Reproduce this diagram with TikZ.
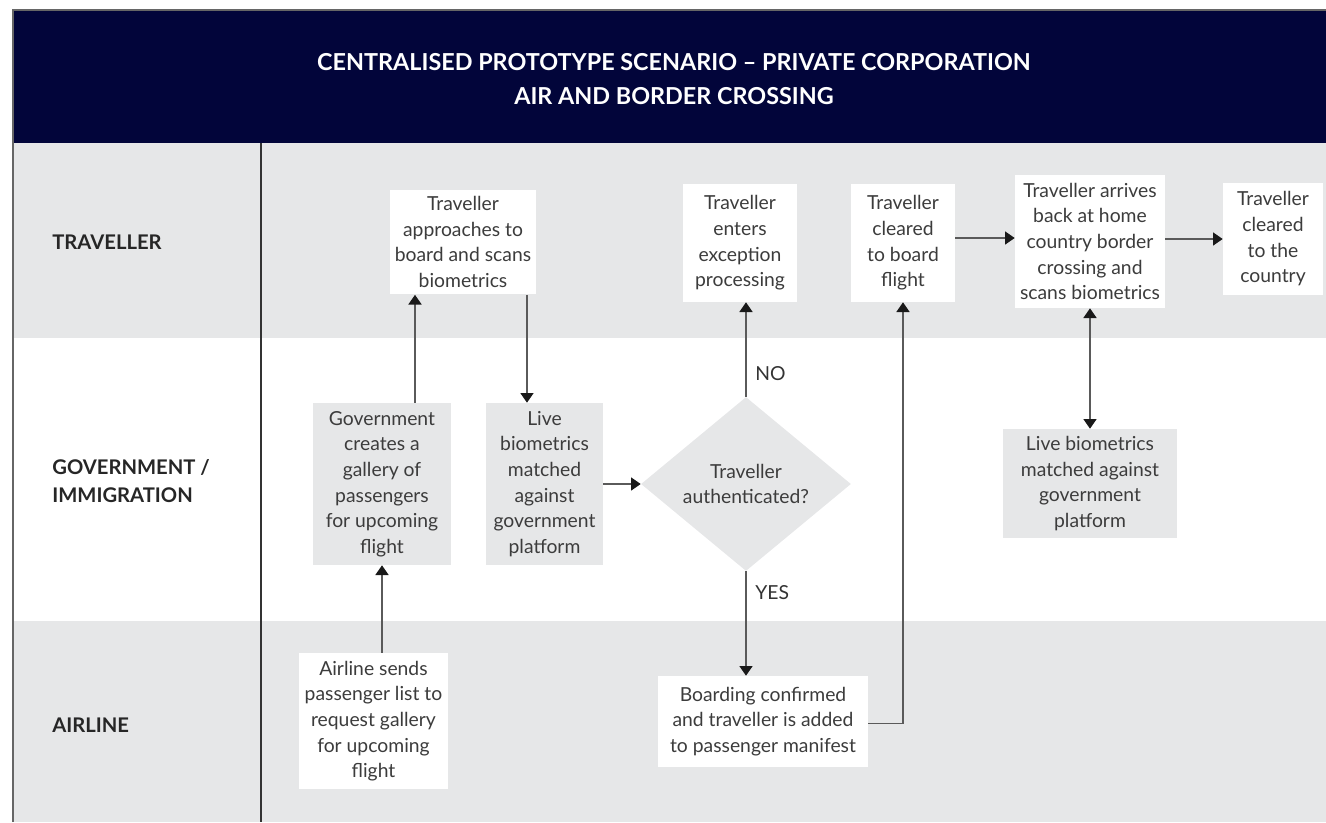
\documentclass[tikz,border=0pt]{standalone}
\usepackage{xcolor}
\usepackage{fontspec}
\setmainfont{Lato}
\usetikzlibrary{shapes.geometric,arrows.meta}

\definecolor{navy}{HTML}{02053A}
\definecolor{lanegrey}{HTML}{E6E7E8}
\definecolor{boxtext}{HTML}{3C3C3C}
\definecolor{flowline}{HTML}{5A5A5A}

\begin{document}
\begin{tikzpicture}[x=0.02cm,y=-0.02cm,
    every node/.style={font=\fontsize{11}{14.6}\selectfont,text=boxtext,align=center,inner sep=0pt},
    whitebox/.style={fill=white},
    greybox/.style={fill=lanegrey},
    decision/.style={diamond,fill=lanegrey,minimum width=4.2cm,minimum height=3.48cm},
    lanelabel/.style={font=\fontsize{11.5}{16}\selectfont\bfseries,text=black!85,align=left,anchor=west},
    flow/.style={draw=flowline,line width=0.6pt,-{Triangle[width=7.5pt,length=5.5pt,color=black!90]}},
    twoway/.style={draw=flowline,line width=0.6pt,{Triangle[width=7.5pt,length=5.5pt,color=black!90]}-{Triangle[width=7.5pt,length=5.5pt,color=black!90]}}]
    \useasboundingbox (0,0) rectangle (1326,822);
    % lanes and header
    \fill[lanegrey] (13,143) rectangle (1326,338);
    \fill[lanegrey] (13,621) rectangle (1326,822);
    \fill[navy] (13,10) rectangle (1326,143);
    \draw[black!60,line width=0.6pt] (13,822) -- (13,10) -- (1326,10);
    \draw[black!80,line width=0.6pt] (261,143) -- (261,822);
    \node[font=\fontsize{13.3}{19}\selectfont\bfseries,text=white] (title) at (674,79) {CENTRALISED PROTOTYPE SCENARIO -- PRIVATE CORPORATION\\AIR AND BORDER CROSSING};
    \node[lanelabel] (traveller) at (52,242) {TRAVELLER};
    \node[lanelabel] (government) at (52,481) {GOVERNMENT /\\IMMIGRATION};
    \node[lanelabel] (airline) at (52,725) {AIRLINE};
    % boxes
    \node[whitebox,minimum width=2.94cm,minimum height=2.1cm] (approach) at (463,242) {Traveller\\approaches to\\board and scans\\biometrics};
    \node[greybox,minimum width=2.76cm,minimum height=3.24cm] (gallery) at (382,484) {Government\\creates a\\gallery of\\passengers\\for upcoming\\flight};
    \node[greybox,minimum width=2.34cm,minimum height=3.24cm] (livematch) at (544.5,484) {Live\\biometrics\\matched\\against\\government\\platform};
    \node[decision] (authenticated) at (746,484) {Traveller\\authenticated?};
    \node[whitebox,minimum width=2.28cm,minimum height=2.36cm] (exception) at (740,243) {Traveller\\enters\\exception\\processing};
    \node[whitebox,minimum width=2.08cm,minimum height=2.36cm] (clearedboard) at (903,243) {Traveller\\cleared\\to board\\flight};
    \node[whitebox,minimum width=3.0cm,minimum height=2.66cm] (arrives) at (1090,241.5) {Traveller arrives\\back at home\\country border\\crossing and\\scans biometrics};
    \node[whitebox,minimum width=2.0cm,minimum height=2.24cm] (clearedcountry) at (1273,239) {Traveller\\cleared\\to the\\country};
    \node[greybox,minimum width=3.48cm,minimum height=2.18cm] (livematchtwo) at (1090,483.5) {Live biometrics\\matched against\\government\\platform};
    \node[whitebox,minimum width=2.98cm,minimum height=2.72cm] (sends) at (373.5,721) {Airline sends\\passenger list to\\request gallery\\for upcoming\\flight};
    \node[whitebox,minimum width=4.2cm,minimum height=1.82cm] (boarding) at (763,721.5) {Boarding confirmed\\and traveller is added\\to passenger manifest};
    % connectors
    \draw[flow] ([xshift=0.66cm]gallery.north) -- ([xshift=0.66cm]gallery.north |- approach.south);
    \draw[flow] ([xshift=1.28cm]approach.south) -- ([xshift=1.28cm]approach.south |- livematch.north);
    \draw[flow] (sends.north -| gallery.south) -- (gallery.south);
    \draw[flow] (livematch.east) -- (authenticated.west);
    \draw[flow] (authenticated.north) -- node[right=5pt,pos=0.25,text=black!80] {NO} (authenticated.north |- exception.south);
    \draw[flow] (authenticated.south) -- node[right=5pt,pos=0.2,text=black!80] {YES} (authenticated.south |- boarding.north);
    \draw[flow] ([yshift=-0.04cm]boarding.east) -| (clearedboard.south);
    \draw[flow] ([yshift=0.1cm]clearedboard.east) -- ([yshift=0.1cm]clearedboard.east -| arrives.west);
    \draw[flow] (arrives.east |- clearedcountry.west) -- (clearedcountry.west);
    \draw[twoway] (arrives.south) -- (livematchtwo.north);
\end{tikzpicture}
\end{document}
